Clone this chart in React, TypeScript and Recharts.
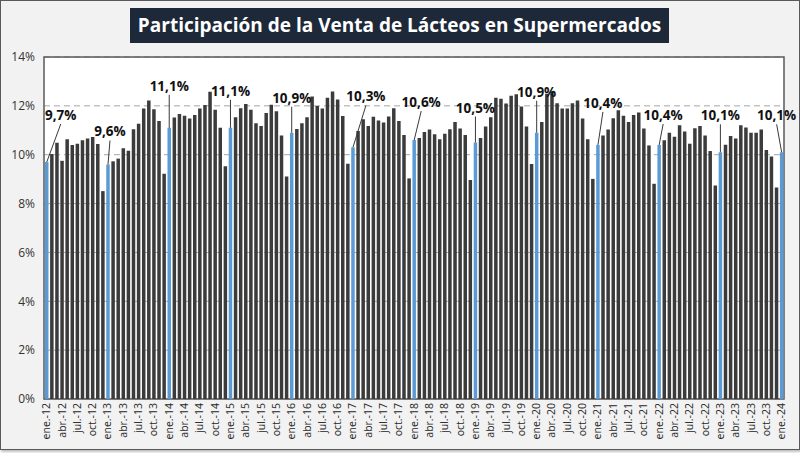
import React from 'react';
import { Bar, BarChart, CartesianGrid, Cell, LabelList, ReferenceArea, XAxis, YAxis } from 'recharts';

const MONTHS = ['ene.', 'feb.', 'mar.', 'abr.', 'may.', 'jun.', 'jul.', 'ago.', 'sep.', 'oct.', 'nov.', 'dic.'];
const YEARS = ['12', '13', '14', '15', '16', '17', '18', '19', '20', '21', '22', '23', '24'];

// participación mensual (%), un array por año
const share2012 = [9.7, 10.03, 10.49, 9.75, 10.63, 10.4, 10.45, 10.59, 10.66, 10.73, 10.44, 8.51];
const share2013 = [9.6, 9.73, 9.84, 10.26, 10.16, 11.04, 11.27, 11.89, 12.22, 11.86, 11.38, 9.22];
const share2014 = [11.1, 11.52, 11.67, 11.59, 11.48, 11.63, 11.89, 12.03, 12.58, 11.84, 11.1, 9.53];
const share2015 = [11.1, 11.53, 11.9, 12.08, 11.84, 11.29, 11.18, 11.71, 12.05, 11.78, 10.79, 9.11];
const share2016 = [10.9, 11.05, 11.29, 11.53, 12.38, 11.99, 11.89, 12.33, 12.59, 12.26, 11.58, 9.63];
const share2017 = [10.3, 10.97, 11.45, 11.18, 11.55, 11.4, 11.32, 11.56, 11.9, 11.38, 10.81, 9.03];
const share2018 = [10.6, 10.68, 10.93, 11.03, 10.84, 10.63, 10.86, 11.04, 11.34, 11.07, 10.81, 8.96];
const share2019 = [10.5, 10.68, 11.15, 11.53, 12.33, 12.29, 12.1, 12.41, 12.48, 11.97, 11.15, 9.62];
const share2020 = [10.9, 11.34, 12.5, 12.6, 12.11, 11.89, 11.89, 12.11, 12.22, 11.48, 10.63, 9.01];
const share2021 = [10.4, 10.79, 11.03, 11.49, 11.82, 11.59, 11.34, 11.63, 11.73, 11.07, 10.38, 8.81];
const share2022 = [10.4, 10.59, 10.9, 10.74, 11.21, 10.95, 10.45, 11.08, 11.18, 10.79, 10.15, 8.74];
const share2023 = [10.1, 10.41, 10.77, 10.66, 11.21, 11.11, 10.9, 10.9, 11.03, 10.19, 9.93, 8.66];
const share2024 = [10.1];

const Y_TICKS = [0, 2, 4, 6, 8, 10, 12, 14];

// desplazamiento de las etiquetas de enero respecto a la barra [dx, dy] en px
const janLabelOffsets = [
  [14, -47], [2, -33], [0, -42], [0, -37], [0, -35], [13, -51], [7, -38],
  [0, -35], [0, -41], [5, -42], [4, -30], [0, -37], [-5, -37],
];

const allShares = [
  share2012, share2013, share2014, share2015, share2016, share2017, share2018,
  share2019, share2020, share2021, share2022, share2023, share2024,
];

const data = allShares.flatMap((vals, yi) =>
  vals.map((v, mi) => ({ mes: `${MONTHS[mi]}-${YEARS[yi]}`, valor: v, enero: mi === 0 })),
);

const FONT = '"Open Sans", "Noto Sans", sans-serif';
const DARK = '#3b3b3b';
const BLUE = '#5b9bd5';

function MonthTick(props: any) {
  const { x, y, payload } = props;
  return (
    <text
      transform={`translate(${x},${y + 4}) rotate(-90)`}
      textAnchor="end"
      dy="0.35em"
      fontSize={10.5}
      fontFamily={FONT}
      fill="#262626"
    >
      {payload.value}
    </text>
  );
}

function JanLabel(props: any) {
  const index = props.index;
  if (index == null || index % 12 !== 0) return null;
  const vb = props.viewBox || props;
  const x = props.x ?? vb.x;
  const y = props.y ?? vb.y;
  const width = props.width ?? vb.width;
  const cx = x + width / 2;
  const [dx, dy] = janLabelOffsets[index / 12] || [0, -36];
  const lx = cx + dx;
  const ly = y + dy;
  const txt = `${Number(props.value).toFixed(1).replace('.', ',')}%`;
  return (
    <g>
      <line x1={lx} y1={ly + 9} x2={cx} y2={y} stroke="#3a3a3a" strokeWidth={1} />
      <text
        x={lx}
        y={ly}
        textAnchor="middle"
        dominantBaseline="central"
        fontSize={13.5}
        fontWeight={700}
        fontFamily={FONT}
        fill="#111"
      >
        {txt}
      </text>
    </g>
  );
}

export default function App() {
  return (
    <div
      style={{
        position: 'absolute',
        left: 0,
        top: 0,
        width: 800,
        height: 453,
        background: '#ffffff',
        fontFamily: FONT,
      }}
    >
      <div
        style={{
          position: 'absolute',
          left: 0,
          top: 0,
          width: 798,
          height: 448,
          background: '#f2f2f2',
          border: '1px solid #595959',
          boxShadow: '1px 2px 2px rgba(0,0,0,0.25)',
        }}
      />
      <div
        style={{
          position: 'absolute',
          left: 130,
          top: 8,
          width: 539,
          height: 35,
          background: '#1d2939',
          color: '#ffffff',
          fontWeight: 700,
          fontSize: 19,
          lineHeight: '35px',
          textAlign: 'center',
          whiteSpace: 'nowrap',
        }}
      >
        Participación de la Venta de Lácteos en Supermercados
      </div>
      <div style={{ position: 'absolute', left: 0, top: 0 }}>
        <BarChart
          width={800}
          height={453}
          data={data}
          margin={{ top: 57, right: 16, left: 0, bottom: 0 }}
          barSize={3.5}
        >
          <CartesianGrid
            vertical={false}
            fill="#ffffff"
            stroke="#a6a6a6"
            strokeDasharray="6 4"
          />
          <XAxis
            dataKey="mes"
            interval={2}
            height={54}
            tick={<MonthTick />}
            tickSize={0}
            tickMargin={0}
            tickLine={false}
            axisLine={false}
          />
          <YAxis
            width={44}
            domain={[0, 14]}
            ticks={Y_TICKS}
            tickFormatter={(v: number) => `${v}%`}
            tick={{ fontSize: 12, fill: '#333', fontFamily: FONT }}
            tickSize={0}
            tickMargin={9}
            tickLine={false}
            axisLine={false}
          />
          <Bar dataKey="valor" isAnimationActive={false}>
            {data.map((d, i) => (
              <Cell key={i} fill={d.enero ? BLUE : DARK} />
            ))}
            <LabelList dataKey="valor" content={<JanLabel />} />
          </Bar>
          <ReferenceArea y1={0} y2={14} fill="none" stroke="#595959" strokeWidth={1.5} ifOverflow="visible" />
        </BarChart>
      </div>
    </div>
  );
}
